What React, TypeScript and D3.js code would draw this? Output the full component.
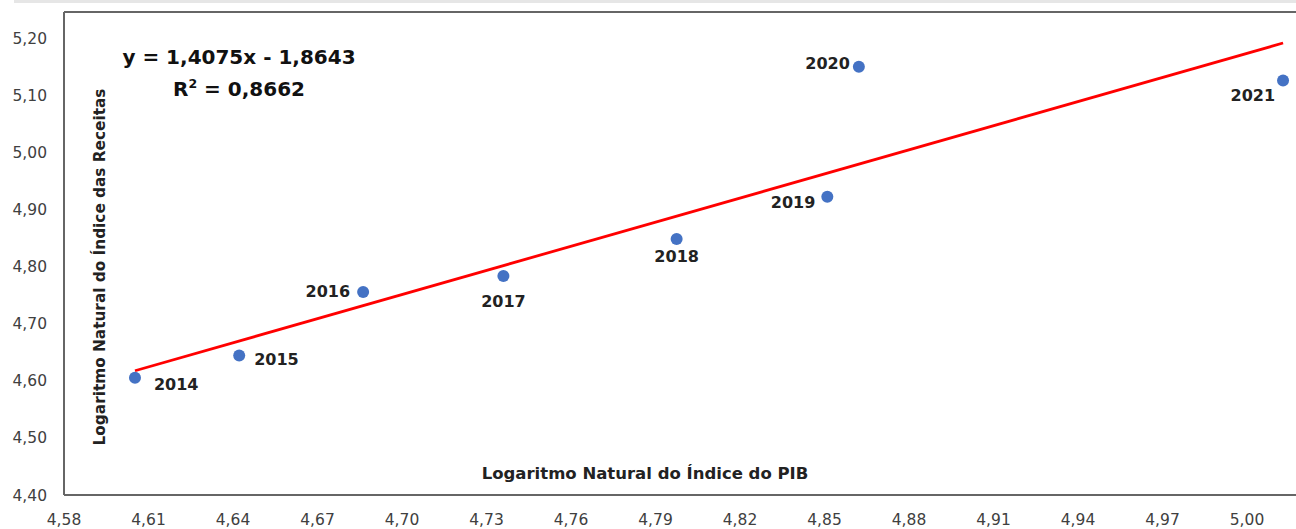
import React from 'react';
import * as d3 from 'd3';

// dados: ln do índice do PIB (x) e ln do índice das receitas (y)
const years = ['2014', '2015', '2016', '2017', '2018', '2019', '2020', '2021'];
const lnPib = [4.6052, 4.6422, 4.6862, 4.7360, 4.7975, 4.8510, 4.8622, 5.0128];
const lnReceitas = [4.6052, 4.6440, 4.7555, 4.7835, 4.8480, 4.9220, 5.1495, 5.1255];

const slope = 1.4075;
const intercept = -1.8643;
const equationText = 'y = 1,4075x - 1,8643';
const r2Text = '0,8662';

const xTicks = [4.58, 4.61, 4.64, 4.67, 4.70, 4.73, 4.76, 4.79, 4.82, 4.85, 4.88, 4.91, 4.94, 4.97, 5.00];
const yTicks = [4.40, 4.50, 4.60, 4.70, 4.80, 4.90, 5.00, 5.10, 5.20];

const xTitle = 'Logaritmo Natural do Índice do PIB';
const yTitle = 'Logaritmo Natural do Índice das Receitas';

// onde fica o rótulo de cada ano em relação ao ponto
const labelPos: Record<string, [number, number, string]> = {
  '2014': [19, 12, 'start'],
  '2015': [15, 9, 'start'],
  '2016': [-13, 5, 'end'],
  '2017': [0, 31, 'middle'],
  '2018': [0, 23, 'middle'],
  '2019': [-12, 11, 'end'],
  '2020': [-9, 2, 'end'],
  '2021': [-8, 20, 'end'],
};

const W = 1296;
const H = 529;
const font = '"DejaVu Sans", Verdana, sans-serif';

const pt = d3.formatLocale({ decimal: ',', thousands: '.', grouping: [3], currency: ['R$', ''] });
const fmt = pt.format('.2f');

export default function App() {
  const x = d3.scaleLinear().domain([4.58, 5.0]).range([64, 1247]);
  const y = d3.scaleLinear().domain([4.4, 5.2]).range([495, 38]);

  const left = x(4.58);
  const bottom = y(4.4);
  const top = 12;

  const x0 = d3.min(lnPib) as number;
  const x1 = d3.max(lnPib) as number;
  const trend = d3.line<number>()
    .x(d => x(d))
    .y(d => y(slope * d + intercept));

  return (
    <svg width={W} height={H} style={{ position: 'absolute', left: 0, top: 0, background: '#fff' }}>
      <rect x={14} y={0} width={W - 14} height={3} fill="#e6e6e6" />

      {/* moldura */}
      <line x1={left} y1={top} x2={W} y2={top} stroke="#666" strokeWidth={2} />
      <line x1={left} y1={top} x2={left} y2={bottom} stroke="#666" strokeWidth={2} />
      <line x1={left} y1={bottom} x2={W} y2={bottom} stroke="#666" strokeWidth={2} />

      {yTicks.map(t => (
        <text key={'y' + t} x={47} y={y(t)} dy="0.36em" textAnchor="end"
          fontFamily={font} fontSize={15.5} fill="#404040">{fmt(t)}</text>
      ))}
      {xTicks.map(t => (
        <text key={'x' + t} x={x(t)} y={525} textAnchor="middle"
          fontFamily={font} fontSize={15.5} fill="#404040">{fmt(t)}</text>
      ))}

      <text x={645} y={479} textAnchor="middle" fontFamily={font} fontSize={16.5}
        fontWeight="bold" fill="#222">{xTitle}</text>
      <text transform={`translate(105,267) rotate(-90)`} textAnchor="middle" fontFamily={font}
        fontSize={15.3} fontWeight="bold" fill="#222">{yTitle}</text>

      <path d={trend([x0, x1]) as string} fill="none" stroke="#ff0000" strokeWidth={2.8} />

      {lnPib.map((v, i) => (
        <circle key={years[i]} cx={x(v)} cy={y(lnReceitas[i])} r={6} fill="#4472c4" />
      ))}
      {lnPib.map((v, i) => {
        const [dx, dy, anchor] = labelPos[years[i]];
        return (
          <text key={'l' + years[i]} x={x(v) + dx} y={y(lnReceitas[i]) + dy} textAnchor={anchor as any}
            fontFamily={font} fontSize={16} fontWeight="bold" fill="#222">{years[i]}</text>
        );
      })}

      <text x={239} y={64} textAnchor="middle" fontFamily={font} fontSize={20}
        fontWeight="bold" fill="#111">{equationText}</text>
      <text x={239} y={96} textAnchor="middle" fontFamily={font} fontSize={20}
        fontWeight="bold" fill="#111">
        R<tspan dy={-8} fontSize={12.5}>2</tspan><tspan dy={8}>{' = ' + r2Text}</tspan>
      </text>
    </svg>
  );
}
